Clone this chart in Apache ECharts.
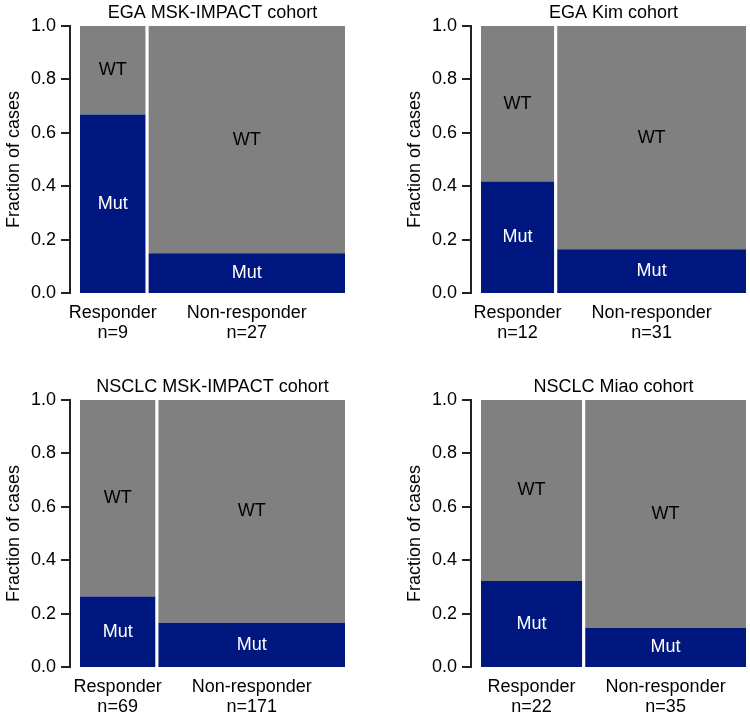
<!DOCTYPE html>
<html>
<head>
<meta charset="utf-8">
<script src="https://cdn.jsdelivr.net/npm/echarts@6/dist/echarts.min.js"></script>
<style>
  html, body { margin: 0; padding: 0; background: #fff; }
  #chart { width: 750px; height: 716px; }
</style>
</head>
<body>
<div id="chart"></div>
<script>
// one panel per cohort, bar width proportional to n
const cohorts = ['EGA MSK-IMPACT cohort', 'EGA Kim cohort', 'NSCLC MSK-IMPACT cohort', 'NSCLC Miao cohort']
const groups = ['Responder', 'Non-responder']
const responderN = [9, 12, 69, 22]
const nonResponderN = [27, 31, 171, 35]
const responderMut = [0.669, 0.418, 0.264, 0.322]
const nonResponderMut = [0.149, 0.164, 0.166, 0.147]
const yTicks = [0, 0.2, 0.4, 0.6, 0.8, 1.0]

const fontFamily = '"Liberation Sans", Arial, Helvetica, sans-serif'
const gray = '#808080'
const blue = '#00177f'
const gap = 0.012
const axisOffset = 10
const tickLen = 9
const axisW = 2

// panel boxes (plot area)
const panels = [
  { left: 80, top: 26 },
  { left: 481, top: 26 },
  { left: 80, top: 400 },
  { left: 481, top: 400 },
]
const plotW = 265
const plotH = 267

const buildPanelData = (i) => {
  const total = responderN[i] + nonResponderN[i]
  const split = (responderN[i] / total) * (1 - gap)
  return [
    { x0: 0, x1: split, mut: responderMut[i], name: groups[0], n: responderN[i] },
    { x0: split + gap, x1: 1, mut: nonResponderMut[i], name: groups[1], n: nonResponderN[i] },
  ]
}

const textStyle = (text, fill) => ({
  text,
  fill,
  fontSize: 18,
  fontFamily,
  align: 'center',
  verticalAlign: 'middle',
})

// R-style detached y axis line + outward ticks, placed via the axis scale.
// stroked thin lines went missing, so these are filled thin rects
const axisElements = (api) => {
  const x = Math.round(api.coord([0, 0])[0] - axisOffset)
  const yBottom = Math.round(api.coord([0, yTicks[0]])[1])
  const yTop = Math.round(api.coord([0, yTicks[yTicks.length - 1]])[1])
  const style = { fill: '#222' }
  const els = [
    { type: 'rect', z2: 100, shape: { x: x - axisW / 2, y: yTop - 1, width: axisW, height: yBottom - yTop + 2 }, style },
  ]
  yTicks.forEach((t) => {
    const y = Math.round(api.coord([0, t])[1])
    els.push({ type: 'rect', z2: 100, shape: { x: x - tickLen, y: y - axisW / 2, width: tickLen, height: axisW }, style })
  })
  return els
}

const makeRenderItem = (rows) => (params, api) => {
  const row = rows[params.dataIndex]
  const bl = api.coord([row.x0, 0])
  const mt = api.coord([row.x1, row.mut])
  const tr = api.coord([row.x1, 1])
  const cx = (bl[0] + tr[0]) / 2
  const children = [
    {
      type: 'rect',
      shape: { x: bl[0], y: tr[1], width: tr[0] - bl[0], height: mt[1] - tr[1] },
      style: { fill: gray },
    },
    {
      type: 'rect',
      shape: { x: bl[0], y: mt[1], width: tr[0] - bl[0], height: bl[1] - mt[1] },
      style: { fill: blue },
    },
    { type: 'text', x: cx, y: (tr[1] + mt[1]) / 2, style: textStyle('WT', '#000') },
    { type: 'text', x: cx, y: (mt[1] + bl[1]) / 2, style: textStyle('Mut', '#fff') },
    {
      type: 'text',
      x: cx,
      y: bl[1] + 10,
      style: Object.assign(textStyle(row.name + '\nn=' + row.n, '#000'), {
        verticalAlign: 'top',
        lineHeight: 20,
      }),
    },
  ]
  if (params.dataIndex === 0) {
    children.push(...axisElements(api))
  }
  return { type: 'group', children }
}

const option = {
  animation: false,
  backgroundColor: '#fff',
  title: cohorts.map((name, i) => ({
    text: name,
    left: panels[i].left + plotW / 2,
    top: panels[i].top - 22,
    textAlign: 'center',
    padding: 0,
    textStyle: { fontSize: 18, fontWeight: 'normal', color: '#000', fontFamily },
  })),
  grid: panels.map((p) => ({ left: p.left, top: p.top, width: plotW, height: plotH })),
  xAxis: panels.map((p, i) => ({ type: 'value', gridIndex: i, min: 0, max: 1, show: false })),
  yAxis: panels.map((p, i) => ({
    type: 'value',
    gridIndex: i,
    min: yTicks[0],
    max: yTicks[yTicks.length - 1],
    interval: 0.2,
    offset: axisOffset,
    name: 'Fraction of cases',
    nameLocation: 'middle',
    nameGap: 47,
    nameTextStyle: { fontSize: 18, color: '#000', fontFamily },
    axisLine: { show: false },
    axisTick: { show: false },
    axisLabel: { fontSize: 18, color: '#000', fontFamily, margin: 14, formatter: (v) => v.toFixed(1) },
    splitLine: { show: false },
  })),
  series: cohorts.map((name, i) => {
    const rows = buildPanelData(i)
    return {
      type: 'custom',
      xAxisIndex: i,
      yAxisIndex: i,
      clip: false,
      silent: true,
      data: rows.map((r) => [r.x0, r.x1, r.mut]),
      encode: { x: [0, 1], y: 2 },
      renderItem: makeRenderItem(rows),
    }
  }),
}

const myChart = echarts.init(document.getElementById('chart'))
myChart.setOption(option)
</script>
</body>
</html>
